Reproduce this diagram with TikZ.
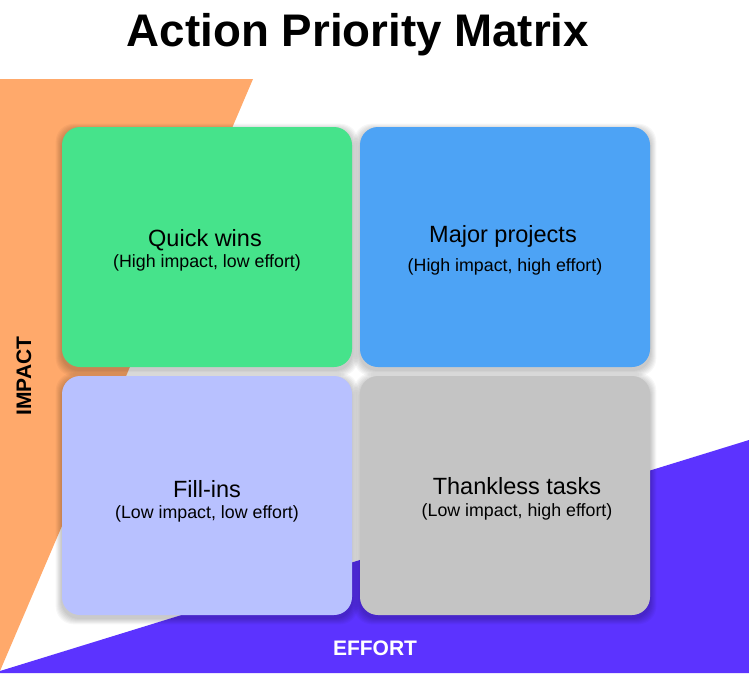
\documentclass[tikz,border=0pt]{standalone}
\usepackage{fontspec}
\setmainfont{Liberation Sans}
\definecolor{cgreen}{RGB}{70,227,139}
\definecolor{cblue}{RGB}{77,163,245}
\definecolor{clav}{RGB}{184,193,255}
\definecolor{cgrey}{RGB}{196,196,196}
\definecolor{corange}{RGB}{255,169,107}
\definecolor{cpurple}{RGB}{92,51,255}
\tikzset{
  card/.style={rounded corners=18pt, draw=none},
  maintext/.style={anchor=base, font=\fontsize{23.5}{26}\selectfont, text=black, inner sep=0pt},
  subtext/.style={anchor=base, font=\fontsize{17.8}{20}\selectfont, text=black, inner sep=0pt},
  axistext/.style={font=\fontsize{21}{23}\selectfont\bfseries, inner sep=0pt},
}
\newcommand{\shadowcard}[4]{%
  \foreach \k in {1,...,7}{%
    \fill[black, opacity=0.03, rounded corners=18pt]
      ({#1-\k*0.9},{#2-\k*0.9+3}) rectangle ({#3+\k*0.9},{#4+\k*0.9+3});
  }%
}
\begin{document}
\begin{tikzpicture}[x=1pt,y=-1pt]
\useasboundingbox (0,0) rectangle (749,673);
\fill[white] (0,0) rectangle (749,673);
% background triangles
\fill[corange] (0,79) -- (253,79) -- (0,671) -- cycle;
\fill[cpurple] (0,671) -- (749,440) -- (749,673) -- (0,673) -- cycle;
% title
\node[anchor=base, font=\fontsize{45.7}{50}\selectfont\bfseries, inner sep=0pt] (title) at (358,46) {Action Priority Matrix};
% shadows
\shadowcard{62}{127}{352}{367}
\shadowcard{360}{127}{650}{367}
\shadowcard{62}{376}{352}{615}
\shadowcard{360}{376}{650}{615}
% cards
\fill[card, cgreen] (62,127) rectangle (352,367);
\fill[card, cblue] (360,127) rectangle (650,367);
\fill[card, clav] (62,376) rectangle (352,615);
\fill[card, cgrey] (360,376) rectangle (650,615);
% texts
\node[maintext] (t1) at (205,246) {Quick wins};
\node[subtext] (s1) at (207,267) {(High impact, low effort)};
\node[maintext] (t2) at (503,242) {Major projects};
\node[subtext] (s2) at (505,271) {(High impact, high effort)};
\node[maintext] (t3) at (207,497) {Fill-ins};
\node[subtext] (s3) at (207,518) {(Low impact, low effort)};
\node[maintext] (t4) at (517,494) {Thankless tasks};
\node[subtext] (s4) at (517,516) {(Low impact, high effort)};
% axes
\node[axistext, rotate=90] (impact) at (24,376) {IMPACT};
\node[axistext, text=white] (effort) at (375,648) {EFFORT};
\end{tikzpicture}
\end{document}
